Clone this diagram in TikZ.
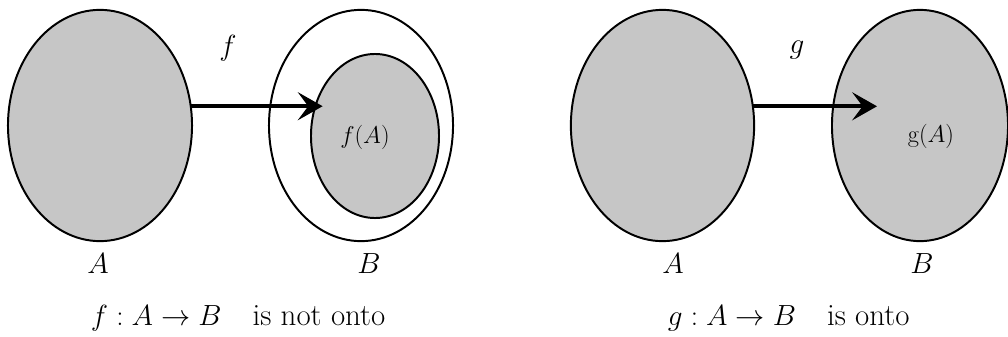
\documentclass[tikz,border=0pt]{standalone}
\usepackage{amsmath,amssymb}
\usepackage{xcolor}
\usepackage{tikz}
\usetikzlibrary{arrows.meta,positioning,calc,shapes.geometric}
\definecolor{setGray}{HTML}{C6C6C6}

\begin{document}
\begin{tikzpicture}[
    x=0.025cm,y=-0.025cm,
    set/.style={ellipse,draw=black,line width=1.4pt,fill=setGray,
                inner sep=0pt,outer sep=0pt},
    blank/.style={ellipse,draw=black,line width=1.4pt,fill=white,
                  inner sep=0pt,outer sep=0pt},
    maparr/.style={-{Stealth[length=0.62cm,width=0.7cm,inset=0.26cm]},
                   line width=2.9pt},
    lbl/.style={font=\fontsize{22}{24}\selectfont,anchor=base},
    img/.style={font=\fontsize{18}{20}\selectfont,anchor=base},
    capt/.style={font=\fontsize{22}{24}\selectfont,anchor=base west}
  ]
  \useasboundingbox (0,0) rectangle (1008,336);
  %% Not onto (left)
  \node[set,minimum width=4.6cm,minimum height=5.78cm] (A1) at (100,125.5) {};
  \node[blank,minimum width=4.6cm,minimum height=5.78cm] (B1) at (361,125.5) {};
  \node[set,minimum width=3.2cm,minimum height=4.1cm] (FA) at (375,136) {};
  \draw[maparr] (A1.12) -- (A1.12 -| FA.138);
  \node[lbl] (f) at (228,55) {$f$};
  \node[img] (fA) at (365,143) {$f(A)$};
  \node[lbl] (a1) at (98,273) {$A$};
  \node[lbl] (b1) at (369,273) {$B$};
  \node[capt] (c1) at (86,325) {$f : A \to B$\quad is not onto};
  %% Onto (right)
  \node[set,minimum width=4.58cm,minimum height=5.78cm] (A2) at (662.5,125.5) {};
  \node[set,minimum width=4.4cm,minimum height=5.78cm] (B2) at (920,125.5) {};
  \coordinate (gtip) at (877,104);
  \draw[maparr] (A2.12) -- (A2.12 -| gtip);
  \node[lbl] (g) at (797,53) {$g$};
  \node[img] (gA) at (931,142) {$\mathrm{g}(A)$};
  \node[lbl] (a2) at (673,273) {$A$};
  \node[lbl] (b2) at (922,273) {$B$};
  \node[capt] (c2) at (663,325) {$g : A \to B$\quad is onto};
\end{tikzpicture}
\end{document}
